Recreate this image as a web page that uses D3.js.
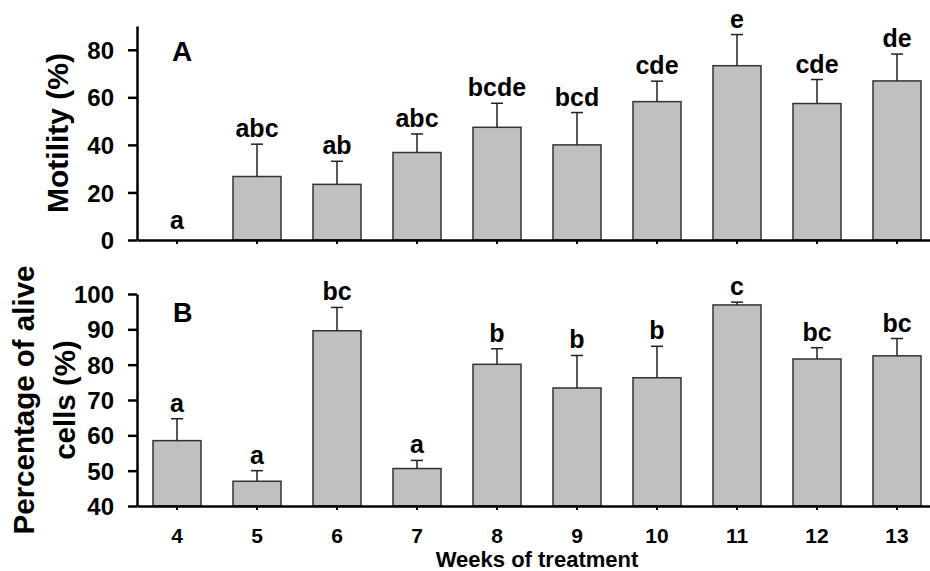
<!DOCTYPE html>
<html>
<head>
<meta charset="utf-8">
<script src="https://cdn.jsdelivr.net/npm/d3@7"></script>
<style>
  body { margin: 0; background: #fff; }
  svg text { font-family: "Liberation Sans", Arial, sans-serif; font-weight: bold; fill: #000; }
</style>
</head>
<body>
<svg width="930" height="571"></svg>
<script>
// data
var weeks = ["4", "5", "6", "7", "8", "9", "10", "11", "12", "13"]

var motility = [0, 26.7, 23.4, 36.8, 47.4, 40.0, 58.2, 73.3, 57.4, 66.9]
var motilityErr = [0, 13.6, 9.7, 7.8, 10.1, 13.6, 8.6, 13.1, 10.1, 11.3]
var motilityLetters = ["a", "abc", "ab", "abc", "bcde", "bcd", "cde", "e", "cde", "de"]
var motilityTicks = [0, 20, 40, 60, 80]

var alive = [58.5, 47.0, 89.6, 50.6, 80.1, 73.4, 76.3, 96.9, 81.6, 82.5]
var aliveErr = [6.2, 3.0, 6.6, 2.3, 4.4, 9.2, 8.9, 0.8, 3.2, 4.9]
var aliveLetters = ["a", "a", "bc", "a", "b", "b", "b", "c", "bc", "bc"]
var aliveTicks = [40, 50, 60, 70, 80, 90, 100]

function renderViz() {
    var svg = d3.select("svg")

    var xScale = d3.scaleBand().domain(weeks).range([137, 937]).paddingInner(0.4).paddingOuter(0.2)

    var yA = d3.scaleLinear().domain([0, 90]).range([240, 26])
    var yB = d3.scaleLinear().domain([40, 100]).range([506, 294])

    drawPanel(svg, xScale, yA, motility, motilityErr, motilityLetters, motilityTicks, false)
    drawPanel(svg, xScale, yB, alive, aliveErr, aliveLetters, aliveTicks, true)

    // panel letters
    svg.append("text").attr("x", 172).attr("y", 61).attr("font-size", 28).text("A")
    svg.append("text").attr("x", 173).attr("y", 322).attr("font-size", 27).text("B")

    // axis titles
    svg.append("text")
        .attr("transform", "translate(68," + yA(45) + ") rotate(-90)")
        .attr("text-anchor", "middle")
        .attr("font-size", 30)
        .text("Motility (%)")

    var tb = svg.append("text")
        .attr("transform", "translate(0," + yB(70) + ") rotate(-90)")
        .attr("text-anchor", "middle")
        .attr("font-size", 29.5)
    tb.append("tspan").attr("x", 0).attr("y", 34).text("Percentage of alive")
    tb.append("tspan").attr("x", 0).attr("y", 75).text("cells (%)")

    svg.append("text")
        .attr("x", 537).attr("y", 567)
        .attr("text-anchor", "middle")
        .attr("font-size", 22)
        .text("Weeks of treatment")
}

function drawPanel(svg, xScale, yScale, values, errs, letters, ticks, showLabels) {
    var g = svg.append("g")
    var base = yScale.domain()[0]
    var rows = weeks.map((w, i) => ({week: w, v: values[i], e: errs[i], l: letters[i]}))

    // bars
    g.selectAll("rect.bar")
        .data(rows)
        .enter()
        .append("rect")
        .attr("class", "bar")
        .attr("x", d => xScale(d.week))
        .attr("width", xScale.bandwidth())
        .attr("y", d => yScale(d.v))
        .attr("height", d => yScale(base) - yScale(d.v))
        .attr("fill", "#c0c0c0")
        .attr("stroke", "#333")
        .attr("stroke-width", 1.5)

    // upper error bars
    var cx = d => xScale(d.week) + xScale.bandwidth() / 2
    g.selectAll("line.err")
        .data(rows.filter(d => d.e > 0))
        .enter()
        .append("line")
        .attr("x1", cx).attr("x2", cx)
        .attr("y1", d => yScale(d.v))
        .attr("y2", d => yScale(d.v + d.e))
        .attr("stroke", "#222")
        .attr("stroke-width", 1.5)
    g.selectAll("line.cap")
        .data(rows.filter(d => d.e > 0))
        .enter()
        .append("line")
        .attr("x1", d => cx(d) - 6).attr("x2", d => cx(d) + 6)
        .attr("y1", d => yScale(d.v + d.e))
        .attr("y2", d => yScale(d.v + d.e))
        .attr("stroke", "#222")
        .attr("stroke-width", 1.5)

    // significance letters
    g.selectAll("text.sig")
        .data(rows)
        .enter()
        .append("text")
        .attr("x", cx)
        .attr("y", d => yScale(d.v + d.e) - (d.e > 0 ? 7 : 11))
        .attr("text-anchor", "middle")
        .attr("font-size", 25)
        .text(d => d.l)

    // axes
    var yAxis = d3.axisLeft(yScale).tickValues(ticks).tickSize(9).tickSizeOuter(0).tickPadding(14)
    var ya = g.append("g").attr("transform", "translate(137,0)").call(yAxis)
    ya.select(".domain").attr("stroke-width", 2.5)
    ya.selectAll(".tick line").attr("stroke-width", 2.5)
    ya.selectAll(".tick text").attr("font-size", 24).attr("font-family", null).attr("dy", "0.36em")

    var xAxis = d3.axisBottom(xScale).tickSize(4).tickSizeOuter(0).tickPadding(18)
    var xa = g.append("g").attr("transform", "translate(0," + yScale(base) + ")").call(xAxis)
    xa.select(".domain").attr("stroke-width", 2.5)
    xa.selectAll(".tick line").attr("stroke-width", 2)
    xa.selectAll(".tick text").attr("font-size", 21).attr("font-family", null).attr("dy", "0.71em")
    if (!showLabels) xa.selectAll(".tick text").remove()
    g.selectAll(".tick text").attr("fill", "#000")
}

renderViz()
</script>
</body>
</html>
